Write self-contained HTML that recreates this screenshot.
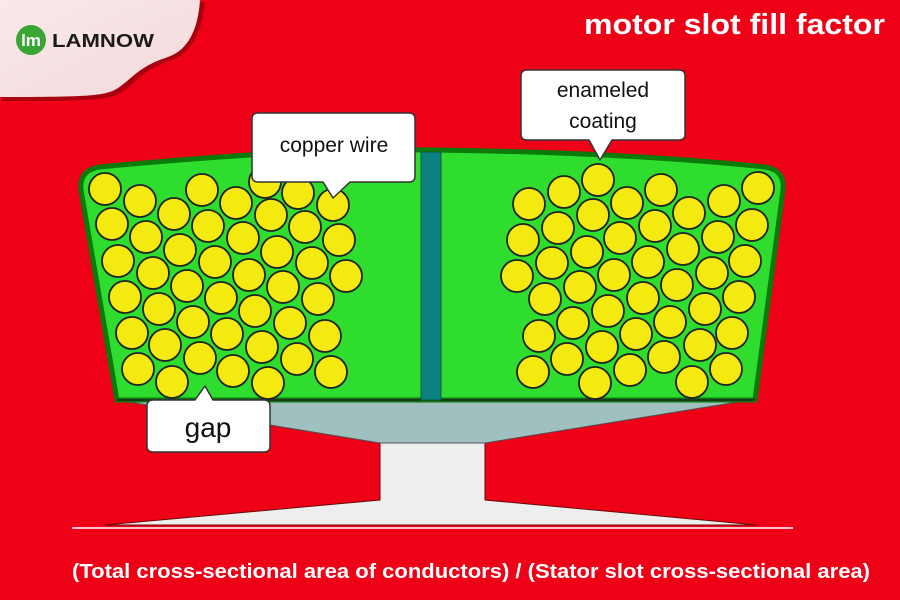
<!DOCTYPE html>
<html><head><meta charset="utf-8"><style>
html,body{margin:0;padding:0;background:#ee0016;}
svg{display:block}
</style></head><body>
<svg width="900" height="600" viewBox="0 0 900 600" xmlns="http://www.w3.org/2000/svg">
<defs>
<linearGradient id="lg" x1="0" y1="0" x2="1" y2="1"><stop offset="0" stop-color="#fbe9ea"/><stop offset="1" stop-color="#f2d9db"/></linearGradient>
</defs>
<rect width="900" height="600" fill="#ee0016"/>
<!-- logo panel -->
<path d="M0 0 H203 C200 30 190 50 170 58 C140 68 135 80 120 90 C108 98 90 99 0 99 Z" fill="#7a0008" transform="translate(2,2)" opacity="0.6"/>
<path d="M0 0 H200 C198 30 188 50 168 57 C138 67 133 78 118 88 C106 96 90 97 0 97 Z" fill="url(#lg)"/>
<circle cx="31" cy="40" r="15" fill="#3aa535"/>
<text x="31" y="46" font-family="Liberation Sans, sans-serif" font-size="17" font-weight="bold" fill="#fff" text-anchor="middle">lm</text>
<text x="52" y="47" font-family="Liberation Sans, sans-serif" font-size="18" font-weight="bold" fill="#1a1a1a" textLength="102" lengthAdjust="spacingAndGlyphs">LAMNOW</text>
<!-- title -->
<text x="584" y="34" font-family="Liberation Sans, sans-serif" font-size="29" font-weight="bold" fill="#fff" textLength="301" lengthAdjust="spacingAndGlyphs">motor slot fill factor</text>
<!-- tooth -->
<path d="M117 400 L750 400 L485 443 L485 500 L757 525 L105 525 L380 500 L380 443 Z" fill="#eeeeee" stroke="#6a0a0a" stroke-width="1"/>
<path d="M117 400 L750 400 L485 443 L380 443 Z" fill="#a0bfbf" stroke="#555" stroke-width="1"/>
<line x1="72" y1="528" x2="793" y2="528" stroke="#fff" stroke-width="1.5"/>
<!-- slot -->
<path d="M117 400 L81 190 Q79 170 100 167 Q300 148 430 150 Q620 152 765 167 Q785 170 783 190 L755 400 Z" fill="#2fdd2f" stroke="#0a7a0a" stroke-width="5"/>
<path d="M117 400 L755 400" stroke="#222" stroke-width="1.5"/>
<rect x="421" y="152" width="20" height="248" fill="#0a8080" stroke="#0a5a3a" stroke-width="1"/>
<g fill="#f5ea10" stroke="#222" stroke-width="1.8">
<circle cx="105" cy="189" r="16"/><circle cx="140" cy="201" r="16"/><circle cx="202" cy="190" r="16"/><circle cx="236" cy="203" r="16"/><circle cx="265" cy="182" r="16"/><circle cx="298" cy="193" r="16"/><circle cx="333" cy="205" r="16"/>
<circle cx="112" cy="224" r="16"/><circle cx="146" cy="237" r="16"/><circle cx="174" cy="214" r="16"/><circle cx="208" cy="226" r="16"/><circle cx="243" cy="238" r="16"/><circle cx="271" cy="215" r="16"/><circle cx="305" cy="227" r="16"/><circle cx="339" cy="240" r="16"/>
<circle cx="118" cy="261" r="16"/><circle cx="153" cy="273" r="16"/><circle cx="180" cy="250" r="16"/><circle cx="215" cy="262" r="16"/><circle cx="249" cy="275" r="16"/><circle cx="277" cy="252" r="16"/><circle cx="312" cy="263" r="16"/><circle cx="346" cy="276" r="16"/>
<circle cx="125" cy="297" r="16"/><circle cx="159" cy="309" r="16"/><circle cx="187" cy="286" r="16"/><circle cx="221" cy="298" r="16"/><circle cx="255" cy="311" r="16"/><circle cx="283" cy="287" r="16"/><circle cx="318" cy="299" r="16"/>
<circle cx="132" cy="333" r="16"/><circle cx="165" cy="345" r="16"/><circle cx="193" cy="322" r="16"/><circle cx="227" cy="334" r="16"/><circle cx="262" cy="347" r="16"/><circle cx="290" cy="323" r="16"/><circle cx="325" cy="336" r="16"/>
<circle cx="138" cy="369" r="16"/><circle cx="172" cy="382" r="16"/><circle cx="200" cy="358" r="16"/><circle cx="233" cy="371" r="16"/><circle cx="268" cy="383" r="16"/><circle cx="297" cy="359" r="16"/><circle cx="331" cy="372" r="16"/>
<circle cx="598" cy="180" r="16"/><circle cx="564" cy="192" r="16"/><circle cx="529" cy="204" r="16"/><circle cx="627" cy="203" r="16"/><circle cx="661" cy="190" r="16"/><circle cx="689" cy="213" r="16"/><circle cx="724" cy="201" r="16"/><circle cx="758" cy="188" r="16"/>
<circle cx="593" cy="215" r="16"/><circle cx="558" cy="228" r="16"/><circle cx="523" cy="240" r="16"/><circle cx="620" cy="238" r="16"/><circle cx="655" cy="226" r="16"/><circle cx="683" cy="249" r="16"/><circle cx="718" cy="237" r="16"/><circle cx="752" cy="225" r="16"/>
<circle cx="587" cy="252" r="16"/><circle cx="552" cy="263" r="16"/><circle cx="517" cy="276" r="16"/><circle cx="614" cy="275" r="16"/><circle cx="648" cy="262" r="16"/><circle cx="677" cy="285" r="16"/><circle cx="712" cy="273" r="16"/><circle cx="745" cy="261" r="16"/>
<circle cx="580" cy="287" r="16"/><circle cx="545" cy="299" r="16"/><circle cx="608" cy="311" r="16"/><circle cx="643" cy="298" r="16"/><circle cx="670" cy="322" r="16"/><circle cx="705" cy="309" r="16"/><circle cx="739" cy="297" r="16"/>
<circle cx="573" cy="323" r="16"/><circle cx="539" cy="336" r="16"/><circle cx="602" cy="347" r="16"/><circle cx="636" cy="334" r="16"/><circle cx="700" cy="345" r="16"/><circle cx="732" cy="333" r="16"/>
<circle cx="567" cy="359" r="16"/><circle cx="533" cy="372" r="16"/><circle cx="595" cy="383" r="16"/><circle cx="630" cy="370" r="16"/><circle cx="664" cy="357" r="16"/><circle cx="692" cy="382" r="16"/><circle cx="726" cy="369" r="16"/>
</g>
<!-- callouts -->
<g fill="#fff" stroke="#333" stroke-width="1.5" stroke-linejoin="round">
<path d="M258 113 H409 Q415 113 415 119 V176 Q415 182 409 182 H350 L333 198 L323 182 H258 Q252 182 252 176 V119 Q252 113 258 113 Z"/>
<path d="M527 70 H679 Q685 70 685 76 V134 Q685 140 679 140 H612 L600 160 L589 140 H527 Q521 140 521 134 V76 Q521 70 527 70 Z"/>
<path d="M153 400 H195 L205 386 L213 400 H264 Q270 400 270 406 V446 Q270 452 264 452 H153 Q147 452 147 446 V406 Q147 400 153 400 Z"/>
</g>
<g font-family="Liberation Sans, sans-serif" fill="#111" text-anchor="middle">
<text x="334" y="152" font-size="21">copper wire</text>
<text x="603" y="97" font-size="21">enameled</text>
<text x="603" y="128" font-size="21">coating</text>
<text x="208" y="437" font-size="28">gap</text>
</g>
<text x="72" y="578" font-family="Liberation Sans, sans-serif" font-size="20" font-weight="bold" fill="#fff" textLength="798" lengthAdjust="spacingAndGlyphs">(Total cross-sectional area of conductors) / (Stator slot cross-sectional area)</text>
</svg>
</body></html>
